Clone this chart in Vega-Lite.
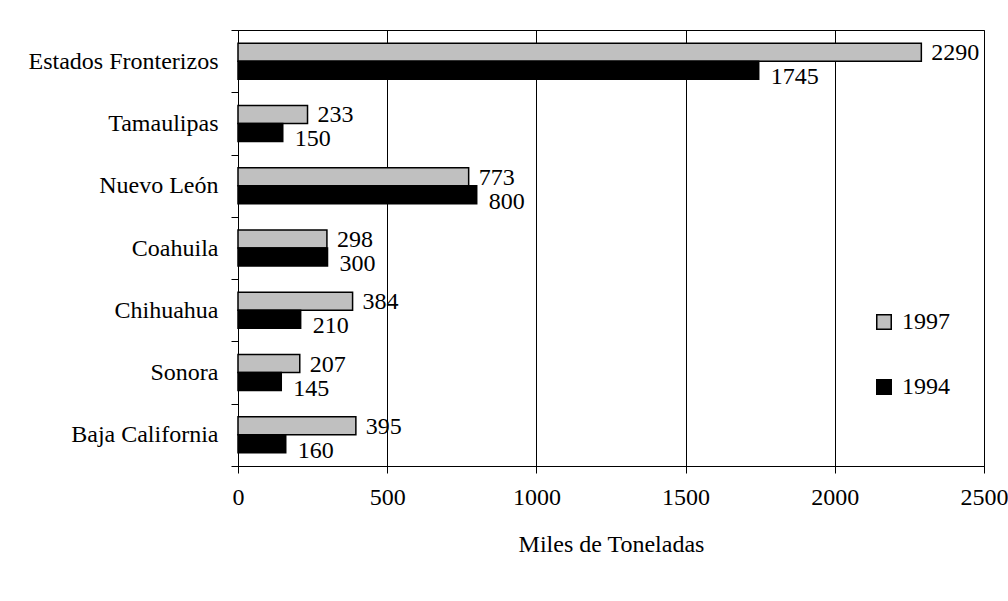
{
  "$schema": "https://vega.github.io/schema/vega-lite/v6.json",
  "autosize": "none",
  "width": 746,
  "height": 436,
  "padding": {"left": 238, "top": 30, "right": 24, "bottom": 135},
  "background": "white",
  "config": {
    "font": "Liberation Serif",
    "view": {"stroke": "black", "strokeWidth": 1},
    "axis": {
      "domainColor": "black",
      "tickColor": "black",
      "labelColor": "black",
      "titleColor": "black",
      "labelFont": "Liberation Serif",
      "titleFont": "Liberation Serif",
      "labelFontSize": 24,
      "titleFontSize": 24,
      "titleFontWeight": "normal",
      "tickSize": 7,
      "labelLimit": 0
    },
    "legend": {
      "labelFont": "Liberation Serif",
      "labelFontSize": 24,
      "labelColor": "black"
    }
  },
  "data": {
    "values": [
      {"estado": "Estados Fronterizos", "anio": "1997", "miles": 2290},
      {"estado": "Estados Fronterizos", "anio": "1994", "miles": 1745},
      {"estado": "Tamaulipas", "anio": "1997", "miles": 233},
      {"estado": "Tamaulipas", "anio": "1994", "miles": 150},
      {"estado": "Nuevo León", "anio": "1997", "miles": 773},
      {"estado": "Nuevo León", "anio": "1994", "miles": 800},
      {"estado": "Coahuila", "anio": "1997", "miles": 298},
      {"estado": "Coahuila", "anio": "1994", "miles": 300},
      {"estado": "Chihuahua", "anio": "1997", "miles": 384},
      {"estado": "Chihuahua", "anio": "1994", "miles": 210},
      {"estado": "Sonora", "anio": "1997", "miles": 207},
      {"estado": "Sonora", "anio": "1994", "miles": 145},
      {"estado": "Baja California", "anio": "1997", "miles": 395},
      {"estado": "Baja California", "anio": "1994", "miles": 160}
    ]
  },
  "encoding": {
    "y": {
      "field": "estado",
      "type": "nominal",
      "sort": null,
      "scale": {"paddingInner": 0, "paddingOuter": 0},
      "axis": {
        "title": null,
        "tickBand": "extent",
        "labelPadding": 13,
        "grid": false
      }
    },
    "yOffset": {
      "field": "anio",
      "type": "nominal",
      "sort": ["1997", "1994"],
      "scale": {"paddingInner": 0, "paddingOuter": 0.73}
    },
    "x": {
      "field": "miles",
      "type": "quantitative",
      "scale": {"domain": [0, 2500], "nice": false},
      "axis": {
        "values": [0, 500, 1000, 1500, 2000, 2500],
        "format": "d",
        "labelFlush": false,
        "grid": true,
        "gridColor": "black",
        "gridOpacity": 1,
        "gridWidth": 1,
        "labelPadding": 12,
        "title": "Miles de Toneladas",
        "titlePadding": 23
      }
    }
  },
  "layer": [
    {
      "mark": {"type": "bar", "stroke": "black", "strokeWidth": 1.5},
      "encoding": {
        "color": {
          "field": "anio",
          "type": "nominal",
          "scale": {"domain": ["1997", "1994"], "range": ["#c0c0c0", "#000000"]},
          "legend": {
            "title": null,
            "orient": "none",
            "legendX": 634,
            "legendY": 280,
            "symbolType": "square",
            "symbolSize": 210,
            "symbolStrokeColor": "black",
            "symbolStrokeWidth": 1.5,
            "labelOffset": 6,
            "rowPadding": 41
          }
        }
      }
    },
    {
      "transform": [{"filter": "datum.anio === '1997'"}],
      "mark": {"type": "text", "align": "left", "baseline": "middle", "dx": 10, "dy": 1, "fontSize": 24, "font": "Liberation Serif", "color": "black"},
      "encoding": {"text": {"field": "miles", "type": "quantitative", "format": "d"}}
    },
    {
      "transform": [{"filter": "datum.anio === '1994'"}],
      "mark": {"type": "text", "align": "left", "baseline": "middle", "dx": 12, "dy": 7, "fontSize": 24, "font": "Liberation Serif", "color": "black"},
      "encoding": {"text": {"field": "miles", "type": "quantitative", "format": "d"}}
    }
  ]
}
